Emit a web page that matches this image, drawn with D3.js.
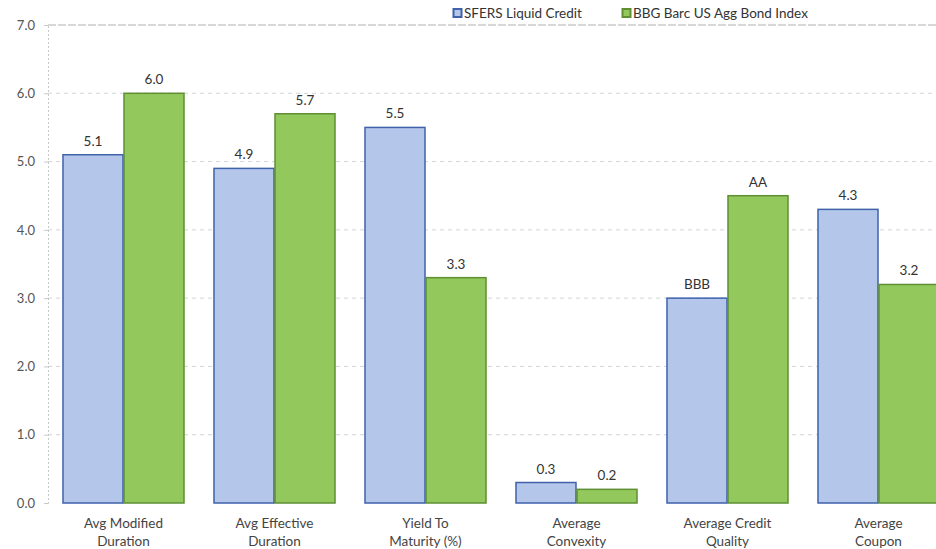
<!DOCTYPE html>
<html>
<head>
<meta charset="utf-8">
<script src="https://cdn.jsdelivr.net/npm/d3@7"></script>
<style>
  html, body { margin: 0; padding: 0; background: #fff; }
  svg { display: block; font-family: Lato, "Open Sans", "Noto Sans", sans-serif; }
</style>
</head>
<body>
<svg id="chart" width="936" height="549"></svg>
<script>
// Portfolio characteristics: SFERS Liquid Credit vs. BBG Barc US Agg Bond Index
const categories = [
  ["Avg Modified", "Duration"],
  ["Avg Effective", "Duration"],
  ["Yield To", "Maturity (%)"],
  ["Average", "Convexity"],
  ["Average Credit", "Quality"],
  ["Average", "Coupon"]
];
const seriesNames = ["SFERS Liquid Credit", "BBG Barc US Agg Bond Index"];
const sfersValues = [5.1, 4.9, 5.5, 0.3, 3.0, 4.3];
const bbgValues   = [6.0, 5.7, 3.3, 0.2, 4.5, 3.2];
// Credit quality is plotted on a numeric scale but labelled with its rating
const sfersLabels = ["5.1", "4.9", "5.5", "0.3", "BBB", "4.3"];
const bbgLabels   = ["6.0", "5.7", "3.3", "0.2", "AA", "3.2"];
const yTicks = [0, 1, 2, 3, 4, 5, 6, 7];

(function draw() {
  const fills   = ["#b4c7ea", "#93c85c"];
  const strokes = ["#3f62ab", "#5e8f33"];

  const svg = d3.select("#chart");
  const mLeft = 48, mBottom = 503, mTop = 25;
  const plotRight = 954; // last group runs past the visible edge

  const y = d3.scaleLinear().domain([0, 7]).range([mBottom, mTop]);
  const x0 = d3.scaleBand()
    .domain(d3.range(categories.length))
    .range([mLeft, plotRight])
    .paddingInner(0.192)
    .paddingOuter(0.096);
  const x1 = d3.scaleBand().domain([0, 1]).range([0, x0.bandwidth()]);

  // gridlines
  svg.append("g")
    .selectAll("line")
    .data(yTicks.filter(d => d > 0))
    .join("line")
    .attr("x1", mLeft).attr("x2", 936)
    .attr("y1", d => y(d)).attr("y2", d => y(d))
    .attr("stroke", d => d === 7 ? "#b0b0b0" : "#d4d4d4")
    .attr("stroke-width", 1)
    .attr("stroke-dasharray", d => d === 7 ? "8,2" : "4,4");

  // y axis
  const yAxis = d3.axisLeft(y)
    .tickValues(yTicks)
    .tickFormat(d3.format(".1f"))
    .tickSize(4)
    .tickPadding(9);
  const ga = svg.append("g")
    .attr("transform", `translate(${mLeft},0)`)
    .call(yAxis);
  ga.select(".domain").attr("stroke", "#c8c8c8").attr("stroke-dasharray", "2,2");
  ga.selectAll(".tick line").attr("stroke", "#c8c8c8");
  ga.selectAll(".tick text")
    .attr("fill", "#555")
    .style("font-size", "13px")
    .style("font-family", "Lato, 'Open Sans', sans-serif");

  // bars
  const series = [sfersValues, bbgValues];
  const labels = [sfersLabels, bbgLabels];
  const groups = svg.append("g")
    .selectAll("g")
    .data(categories.map((c, i) => i))
    .join("g")
    .attr("transform", i => `translate(${x0(i)},0)`);

  groups.selectAll("rect")
    .data(i => series.map((s, k) => ({ k, v: s[i] })))
    .join("rect")
    .attr("x", d => x1(d.k) + 0.5)
    .attr("y", d => y(d.v))
    .attr("width", x1.bandwidth() - 1)
    .attr("height", d => y(0) - y(d.v))
    .attr("fill", d => fills[d.k])
    .attr("stroke", d => strokes[d.k])
    .attr("stroke-width", 1.5);

  groups.selectAll("text.val")
    .data(i => series.map((s, k) => ({ k, v: s[i], t: labels[k][i] })))
    .join("text")
    .attr("class", "val")
    .attr("x", d => x1(d.k) + x1.bandwidth() / 2)
    .attr("y", d => y(d.v) - 9)
    .attr("text-anchor", "middle")
    .attr("fill", "#333")
    .style("font-size", "13.5px")
    .text(d => d.t);

  // category labels
  groups.append("text")
    .attr("x", x0.bandwidth() / 2)
    .attr("y", 528)
    .attr("text-anchor", "middle")
    .attr("fill", "#444")
    .style("font-size", "13.5px")
    .selectAll("tspan")
    .data(i => categories[i])
    .join("tspan")
    .attr("x", x0.bandwidth() / 2)
    .attr("dy", (d, j) => j === 0 ? 0 : 18)
    .text(d => d);

  // legend
  const legend = svg.append("g");
  const legendPos = [453, 622];
  seriesNames.forEach((name, k) => {
    const g = legend.append("g").attr("transform", `translate(${legendPos[k]},13)`);
    g.append("rect")
      .attr("x", 0.5).attr("y", -4)
      .attr("width", 8).attr("height", 8)
      .attr("fill", fills[k])
      .attr("stroke", strokes[k])
      .attr("stroke-width", 2);
    g.append("text")
      .attr("x", 11).attr("y", 5)
      .attr("fill", "#333")
      .style("font-size", "13.5px")
      .text(name);
  });
})();
</script>
</body>
</html>
